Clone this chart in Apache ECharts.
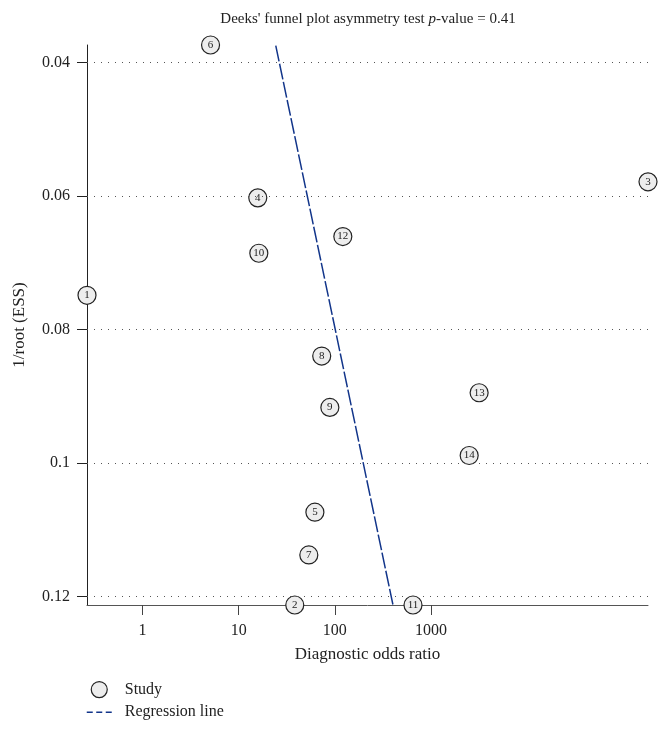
<!DOCTYPE html>
<html>
<head>
<meta charset="utf-8">
<script src="https://cdn.jsdelivr.net/npm/echarts@6/dist/echarts.min.js"></script>
<style>html,body{margin:0;padding:0;background:#fff;}#chart{width:667px;height:730px;}</style>
</head>
<body>
<div id="chart"></div>
<script>
// Study data
const studyIds = [1, 2, 3, 4, 5, 6, 7, 8, 9, 10, 11, 12, 13, 14];
const studyDOR = [0.265, 38.3, 180000, 15.8, 62, 5.1, 53.6, 73, 88.7, 16.2, 649, 121, 3160, 2490];
const studyInvRootESS = [0.0749, 0.1213, 0.0579, 0.0603, 0.1074, 0.0374, 0.1138, 0.0840, 0.0917, 0.0686, 0.1213, 0.0661, 0.0895, 0.0989];
// Regression line endpoints
const regDOR = [24.3, 402];
const regInvRootESS = [0.0375, 0.1213];
// Tick labels
const xTicks = [1, 10, 100, 1000];
const yTicks = [0.04, 0.06, 0.08, 0.1, 0.12];

const FONT = '"Liberation Serif", "DejaVu Serif", serif';
const chart = echarts.init(document.getElementById('chart'));

const scatterData = studyIds.map((id, i) => [studyDOR[i], studyInvRootESS[i], id]);
const lineData = regDOR.map((x, i) => [x, regInvRootESS[i]]);

chart.setOption({
  animation: false,
  backgroundColor: '#fff',
  textStyle: { fontFamily: FONT, color: '#222' },
  title: {
    text: "Deeks' funnel plot asymmetry test {i|p}-value = 0.41",
    left: 363, textAlign: 'center', top: 7,
    textStyle: {
      fontFamily: FONT, fontSize: 15, fontWeight: 'normal', color: '#222',
      rich: { i: { fontFamily: FONT, fontSize: 15, fontStyle: 'italic', color: '#222' } }
    }
  },
  grid: { left: 87, right: 19, top: 45, bottom: 125, containLabel: false },
  xAxis: {
    type: 'log', logBase: 10, min: 0.265, max: 180000,
    name: 'Diagnostic odds ratio', nameLocation: 'middle', nameGap: 41,
    nameTextStyle: { fontFamily: FONT, fontSize: 17, color: '#222' },
    axisLine: { show: true, lineStyle: { color: '#555', width: 1 } },
    axisTick: { show: true, customValues: xTicks, length: 10, lineStyle: { color: '#444' } },
    axisLabel: { customValues: xTicks, margin: 18, fontFamily: FONT, fontSize: 16, color: '#222',
      formatter: v => String(Math.round(v)) },
    splitLine: { show: false },
    minorTick: { show: false }
  },
  yAxis: {
    type: 'value', inverse: true, min: 0.0374, max: 0.1213,
    name: '1/root (ESS)', nameLocation: 'middle', nameGap: 59, nameRotate: 90,
    nameTextStyle: { fontFamily: FONT, fontSize: 17, color: '#222' },
    axisLine: { show: true, lineStyle: { color: '#222', width: 1 } },
    axisTick: { show: true, customValues: yTicks, length: 10, lineStyle: { color: '#222' } },
    axisLabel: { customValues: yTicks, margin: 17, fontFamily: FONT, fontSize: 16, color: '#222',
      formatter: v => String(v) },
    splitLine: { show: false }
  },
  legend: {
    orient: 'vertical', left: 81, top: 676, itemGap: 6, itemWidth: 25, itemHeight: 16,
    textStyle: { fontFamily: FONT, fontSize: 16, color: '#222', padding: [0, 0, 0, 8] },
    data: [
      { name: 'Study', icon: 'circle', itemStyle: { color: '#ededed', borderColor: '#222', borderWidth: 1.2 } },
      { name: 'Regression line', itemStyle: { opacity: 0 }, lineStyle: { type: [6, 3.5], width: 1.5, color: '#12358a' } }
    ]
  },
  series: [
    {
      name: 'Study', type: 'scatter', symbol: 'circle', symbolSize: 18,
      data: scatterData,
      itemStyle: { color: '#ededed', borderColor: '#222', borderWidth: 1.2, opacity: 1 },
      label: { show: true, position: 'inside', formatter: p => String(p.value[2]),
        fontFamily: FONT, fontSize: 11, color: '#222' },
      z: 3,
      markLine: {
        silent: true, symbol: 'none', animation: false,
        label: { show: false },
        lineStyle: { color: '#555', type: [1, 6], width: 1 },
        data: yTicks.map(v => ({ yAxis: v }))
      }
    },
    {
      name: 'Regression line', type: 'line', data: lineData, symbol: 'none',
      lineStyle: { color: '#12358a', width: 1.5, type: [16, 2.5] },
      itemStyle: { color: '#12358a' },
      z: 2
    }
  ]
});
</script>
</body>
</html>
